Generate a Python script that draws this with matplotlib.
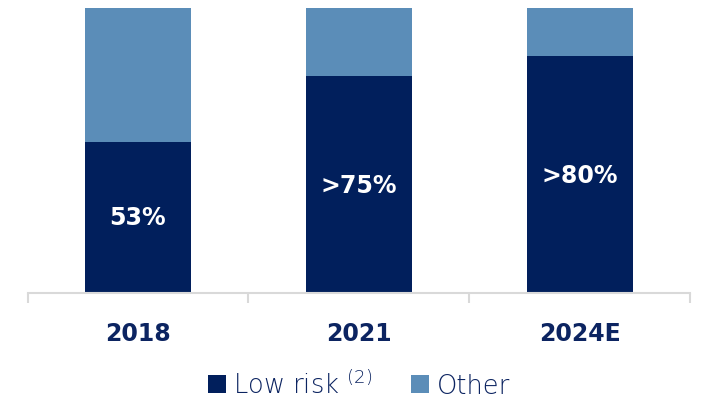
import matplotlib
matplotlib.use("Agg")
import matplotlib.pyplot as plt
from matplotlib.patches import Patch

# Share of portfolio by risk category
years = ["2018", "2021", "2024E"]
low_risk = [53, 76, 83]
bar_labels = ["53%", ">75%", ">80%"]
other = [100 - v for v in low_risk]
series_names = ["Low risk $^{(2)}$", "Other"]

NAVY = "#011F5C"
STEEL = "#5B8DB8"
TEXT = "#0C2461"
AXIS = "#D9D9D9"

plt.rcParams["font.family"] = ["DejaVu Sans"]
# thin superscript in the legend to match the light label text
plt.rcParams["mathtext.fontset"] = "custom"
plt.rcParams["mathtext.rm"] = "DejaVu Sans:light"
plt.rcParams["mathtext.default"] = "rm"

fig = plt.figure(figsize=(7.07, 4.02), dpi=100)
ax = fig.add_axes([27.5 / 707, 108 / 402, 662.5 / 707, 285 / 402])

x = list(range(len(years)))
ax.bar(x, low_risk, width=0.48, color=NAVY, zorder=2)
ax.bar(x, other, bottom=low_risk, width=0.48, color=STEEL, zorder=2)

for xi, v, lab in zip(x, low_risk, bar_labels):
    ax.text(xi, v / 2, lab, ha="center", va="center", color="white",
            fontsize=17, fontweight="bold")

ax.set_xlim(-0.5, len(years) - 0.5)
ax.set_ylim(0, 100)

for s in ["top", "right", "left"]:
    ax.spines[s].set_visible(False)
ax.spines["bottom"].set_color(AXIS)
ax.spines["bottom"].set_linewidth(1.5)
ax.set_yticks([])

# Boundary ticks between categories, labels centred under bars
ax.set_xticks([i - 0.5 for i in range(len(years) + 1)])
ax.set_xticklabels([])
ax.tick_params(axis="x", which="major", direction="out", length=7,
               width=1.5, color=AXIS)
ax.set_xticks(x, minor=True)
ax.set_xticklabels(years, minor=True, fontsize=17, fontweight="bold",
                   color=TEXT)
ax.tick_params(axis="x", which="minor", length=0, pad=20)

handles = [Patch(facecolor=NAVY), Patch(facecolor=STEEL)]
fig.legend(handles, series_names, loc="center", bbox_to_anchor=(359 / 707, 17 / 402),
           ncol=2, frameon=False, labelcolor=TEXT,
           handlelength=0.7, handleheight=0.7, handletextpad=0.3,
           columnspacing=1.5, prop={"size": 18.5, "weight": "light"})

fig.savefig("out.png", dpi=100)
